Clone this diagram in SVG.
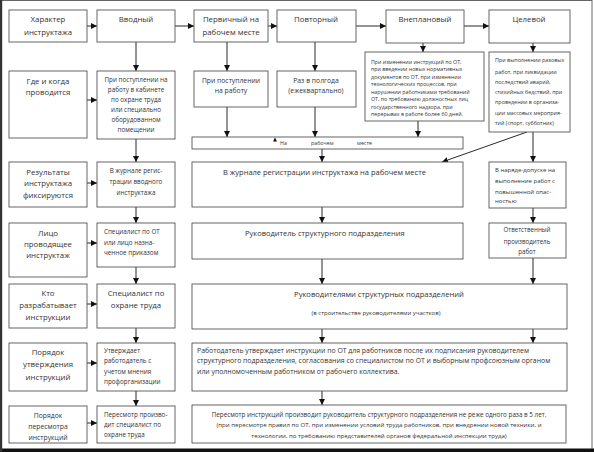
<svg xmlns="http://www.w3.org/2000/svg" width="594" height="452" viewBox="0 0 594 452">
<style>
.b{fill:#fff;stroke:#555;stroke-width:0.9}
.t{font-family:"Open Sans","Noto Sans",sans-serif;fill:#333}
.c{text-anchor:middle}
.h{font-size:7.8px}
.m{font-size:6.3px}
.s{font-size:5.3px}
.g{font-size:5.4px}
.a{stroke:#111;stroke-width:0.9;fill:none;marker-end:url(#ah)}
</style>
<defs>
<marker id="ah" viewBox="0 0 6 6" refX="6" refY="3" markerWidth="6" markerHeight="6" markerUnits="userSpaceOnUse" orient="auto">
<path d="M0,0 L6,3 L0,6 z" fill="#111"/>
</marker>
</defs>
<rect x="0" y="0" width="594" height="452" fill="#fff"/>
<rect x="1" y="0.5" width="591" height="449" fill="none" stroke="#666" stroke-width="1"/>
<rect x="0" y="448.5" width="594" height="3.5" fill="#111"/>
<rect x="0" y="0" width="2.2" height="452" fill="#333"/>

<g id="connectors">
<line class="a" x1="87" y1="26" x2="97" y2="26"/>
<line class="a" x1="87" y1="100" x2="97" y2="100"/>
<line class="a" x1="87" y1="183" x2="97" y2="183"/>
<line class="a" x1="87" y1="243" x2="97" y2="243"/>
<line class="a" x1="87" y1="304" x2="97" y2="304"/>
<line class="a" x1="87" y1="363" x2="97" y2="363"/>
<line class="a" x1="87" y1="423" x2="97" y2="423"/>
<line class="a" x1="136" y1="42" x2="136" y2="71"/>
<line class="a" x1="136" y1="139" x2="136" y2="162"/>
<line class="a" x1="136" y1="207" x2="136" y2="223"/>
<line class="a" x1="136" y1="267" x2="136" y2="284"/>
<line class="a" x1="136" y1="328" x2="136" y2="343"/>
<line class="a" x1="136" y1="391" x2="136" y2="406"/>
<line class="a" x1="175" y1="26" x2="194" y2="26"/>
<line class="a" x1="268" y1="26" x2="277" y2="26"/>
<line class="a" x1="356" y1="26" x2="386" y2="26"/>
<line class="a" x1="464" y1="26" x2="489" y2="26"/>
<line class="a" x1="227" y1="42" x2="227" y2="71"/>
<line class="a" x1="315" y1="42" x2="315" y2="71"/>
<line class="a" x1="423" y1="43" x2="423" y2="52"/>
<line class="a" x1="533" y1="43" x2="533" y2="52"/>
<line class="a" x1="227" y1="107" x2="227" y2="137"/>
<line class="a" x1="315" y1="107" x2="315" y2="137"/>
<line class="a" x1="418" y1="121" x2="418" y2="137"/>
<line class="a" x1="322" y1="149" x2="322" y2="162"/>
<line class="a" x1="527" y1="132" x2="442" y2="162"/>
<line class="a" x1="533" y1="132" x2="533" y2="162"/>
<line class="a" x1="533" y1="208" x2="533" y2="223"/>
<line class="a" x1="533" y1="258" x2="533" y2="284"/>
<line class="a" x1="322" y1="207" x2="322" y2="223"/>
<line class="a" x1="322" y1="259" x2="322" y2="284"/>
<line class="a" x1="322" y1="329" x2="322" y2="343"/>
<line class="a" x1="533" y1="329" x2="533" y2="343"/>
<line class="a" x1="322" y1="391" x2="322" y2="405"/>
</g>

<g id="lbl1"><rect class="b" x="9" y="10" width="78" height="32"/>
<text class="t c h" x="48" y="22">Характер</text><text class="t c h" x="48" y="35">инструктажа</text></g>
<g id="lbl2"><rect class="b" x="9" y="71" width="78" height="67"/>
<text class="t c h" x="48" y="84">Где и когда</text><text class="t c h" x="48" y="95">проводится</text></g>
<g id="lbl3"><rect class="b" x="9" y="162" width="78" height="45"/>
<text class="t c h" x="48" y="175">Результаты</text><text class="t c h" x="48" y="186">инструктажа</text><text class="t c h" x="48" y="198">фиксируются</text></g>
<g id="lbl4"><rect class="b" x="9" y="223" width="78" height="54"/>
<text class="t c h" x="48" y="236">Лицо</text><text class="t c h" x="48" y="247">проводящее</text><text class="t c h" x="48" y="258">инструктаж</text></g>
<g id="lbl5"><rect class="b" x="9" y="284" width="78" height="44"/>
<text class="t c h" x="48" y="296">Кто</text><text class="t c h" x="48" y="308">разрабатывает</text><text class="t c h" x="48" y="320">инструкции</text></g>
<g id="lbl6"><rect class="b" x="9" y="343" width="78" height="48"/>
<text class="t c h" x="48" y="355">Порядок</text><text class="t c h" x="48" y="367">утверждения</text><text class="t c h" x="48" y="380">инструкций</text></g>
<g id="lbl7"><rect class="b" x="9" y="406" width="78" height="37"/>
<text class="t c" style="font-size:6.8px" x="48" y="418">Порядок</text><text class="t c" style="font-size:6.8px" x="48" y="429">пересмотра</text><text class="t c" style="font-size:6.8px" x="48" y="440">инструкций</text></g>

<g id="v1"><rect class="b" x="97" y="10" width="78" height="32"/>
<text class="t c h" x="136" y="22">Вводный</text></g>
<g id="v2"><rect class="b" x="97" y="71" width="78" height="68"/>
<text class="t c m" x="136" y="82">При поступлении на</text><text class="t c m" x="136" y="92">работу в кабинете</text><text class="t c m" x="136" y="102">по охране труда</text><text class="t c m" x="136" y="112">или специально</text><text class="t c m" x="136" y="122">оборудованном</text><text class="t c m" x="136" y="132">помещении</text></g>
<g id="v3"><rect class="b" x="97" y="162" width="78" height="45"/>
<text class="t c m" x="136" y="173">В журнале регис-</text><text class="t c m" x="136" y="184">трации вводного</text><text class="t c m" x="136" y="195">инструктажа</text></g>
<g id="v4"><rect class="b" x="97" y="223" width="78" height="44"/>
<text class="t m" x="104" y="234">Специалист  по ОТ</text><text class="t m" x="104" y="245">или лицо назна-</text><text class="t m" x="104" y="255">ченное приказом</text></g>
<g id="v5"><rect class="b" x="97" y="284" width="78" height="44"/>
<text class="t c h" x="136" y="296">Специалист по</text><text class="t c h" x="136" y="308">охране труда</text></g>
<g id="v6"><rect class="b" x="97" y="343" width="78" height="48"/>
<text class="t m" x="104" y="353">Утверждает</text><text class="t m" x="104" y="363">работодатель с</text><text class="t m" x="104" y="374">учетом мнения</text><text class="t m" x="104" y="384">профорганизации</text></g>
<g id="v7"><rect class="b" x="97" y="406" width="78" height="37"/>
<text class="t m" x="104" y="417">Пересмотр произво-</text><text class="t m" x="104" y="427">дит специалист по</text><text class="t m" x="104" y="437">охране труда</text></g>

<g id="p1"><rect class="b" x="194" y="10" width="74" height="32"/>
<text class="t c h" x="231" y="22">Первичный на</text><text class="t c h" x="231" y="35">рабочем месте</text></g>
<g id="p2"><rect class="b" x="194" y="71" width="74" height="36"/>
<text class="t c" style="font-size:6.8px" x="231" y="83">При поступлении</text><text class="t c" style="font-size:6.8px" x="231" y="93">на работу</text></g>
<g id="r1"><rect class="b" x="277" y="10" width="79" height="32"/>
<text class="t c h" x="316" y="22">Повторный</text></g>
<g id="r2"><rect class="b" x="277" y="71" width="79" height="36"/>
<text class="t c" style="font-size:6.8px" x="316" y="83">Раз в полгода</text><text class="t c" style="font-size:6.8px" x="316" y="93">(ежеквартально)</text></g>
<g id="u1"><rect class="b" x="386" y="10" width="78" height="33"/>
<text class="t c h" x="425" y="22">Внеплановый</text></g>
<g id="u2"><rect class="b" x="365" y="52" width="119" height="69"/>
<text class="t s" x="371" y="64">При изменении инструкций по  ОТ,</text>
<text class="t s" x="371" y="71">при введении новых  нормативных</text>
<text class="t s" x="371" y="78.5">документов по ОТ, при изменении</text>
<text class="t s" x="371" y="86">технологических процессов, при</text>
<text class="t s" x="371" y="93.5">нарушении работниками требований</text>
<text class="t s" x="371" y="101">ОТ, по требованию должностных лиц</text>
<text class="t s" x="371" y="108.5">государственного надзора, при</text>
<text class="t s" x="371" y="116">перерывах в работе более 60 дней.</text></g>
<g id="c1"><rect class="b" x="489" y="10" width="81" height="33"/>
<text class="t c h" x="529" y="22">Целевой</text></g>
<g id="c2"><rect class="b" x="489" y="52" width="81" height="80"/>
<text class="t g" x="495" y="62">При выполнении разовых</text>
<text class="t g" x="495" y="74">работ, при ликвидации</text>
<text class="t g" x="495" y="84">последствий аварий,</text>
<text class="t g" x="495" y="94">стихийных бедствий, при</text>
<text class="t g" x="495" y="104">проведении в организа-</text>
<text class="t g" x="495" y="115">ции массовых мероприя-</text>
<text class="t g" x="495" y="125">тий (спорт, субботник)</text></g>

<g id="place"><rect class="b" x="192" y="137" width="271" height="12"/>
<path d="M273,141.5 L275,137.5 L277,141.5 z" fill="#111"/>
<text class="t s" x="280" y="145">На</text><text class="t s" x="311" y="145">рабочем</text><text class="t s" x="357" y="145">месте</text></g>
<g id="journal"><rect class="b" x="192" y="162" width="271" height="45"/>
<text class="t" style="font-size:7.5px" x="223" y="175">В журнале регистрации инструктажа на рабочем месте</text></g>
<g id="naryad"><rect class="b" x="489" y="162" width="77" height="46"/>
<text class="t" style="font-size:6px" x="495" y="172">В наряде-допуске на</text>
<text class="t" style="font-size:6px" x="495" y="183">выполнение работ с</text>
<text class="t" style="font-size:6px" x="495" y="194">повышенной опас-</text>
<text class="t" style="font-size:6px" x="495" y="203">ностью</text></g>
<g id="head"><rect class="b" x="192" y="223" width="271" height="36"/>
<text class="t" style="font-size:7.5px" x="245" y="236">Руководитель структурного подразделения</text></g>
<g id="resp"><rect class="b" x="489" y="223" width="77" height="35"/>
<text class="t c" style="font-size:6.2px" x="527" y="232">Ответственный</text>
<text class="t c" style="font-size:6.2px" x="527" y="244">производитель</text>
<text class="t c" style="font-size:6.2px" x="527" y="254">работ</text></g>
<g id="heads"><rect class="b" x="192" y="284" width="375" height="45"/>
<text class="t c" style="font-size:7.6px" x="379" y="297">Руководителями структурных подразделений</text>
<text class="t c" style="font-size:6px" x="376" y="315">(в строительстве руководителями участков)</text></g>
<g id="employer"><rect class="b" x="192" y="343" width="375" height="48"/>
<text class="t" style="font-size:6.9px" x="197" y="353">Работодатель утверждает инструкции по ОТ для работников после их подписания руководителем</text>
<text class="t" style="font-size:6.9px" x="197" y="363">структурного подразделения, согласования со специалистом по ОТ  и выборным профсоюзным органом</text>
<text class="t" style="font-size:6.9px" x="197" y="374">или уполномоченным работником от рабочего коллектива.</text></g>
<g id="review"><rect class="b" x="192" y="405" width="374" height="38"/>
<text class="t c" style="font-size:6.3px" x="379" y="417">Пересмотр инструкций производит руководитель структурного подразделения не реже одного раза в 5 лет.</text>
<text class="t c" style="font-size:6.1px" x="379" y="427">(при пересмотре правил по ОТ, при изменении условий труда работников, при внедрении новой техники,  и</text>
<text class="t c" style="font-size:6.1px" x="379" y="438">технологии, по требованию представителей органов федеральной инспекции труда)</text></g>
</svg>
